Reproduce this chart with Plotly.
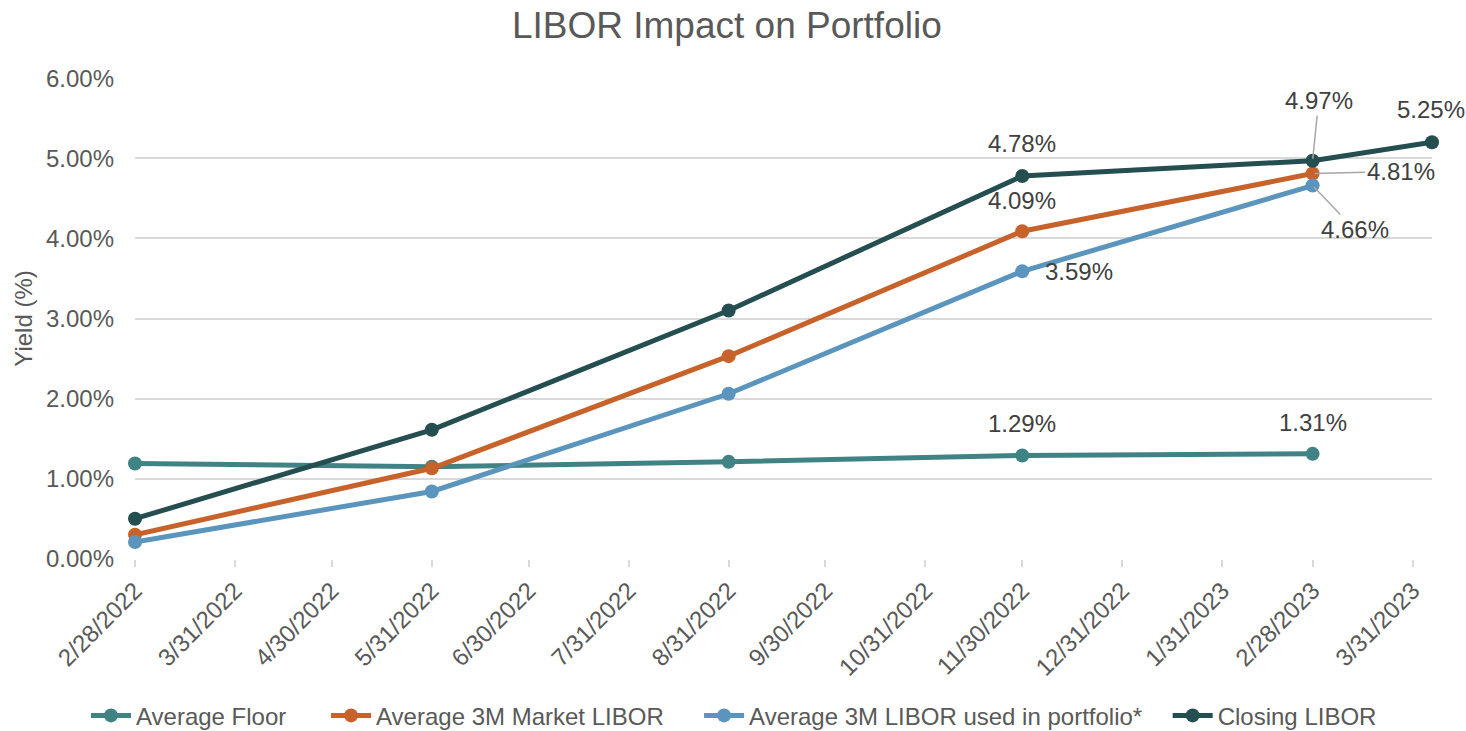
import plotly.graph_objects as go

# ---------------- data ----------------
dates = ["2022-02-28", "2022-05-31", "2022-08-31", "2022-11-30", "2023-02-28"]
closing_dates = ["2022-02-28", "2022-05-31", "2022-08-31", "2022-11-30", "2023-02-28", "2023-04-06"]

avg_floor = [1.19, 1.15, 1.21, 1.29, 1.31]
avg_market = [0.30, 1.13, 2.53, 4.09, 4.81]
avg_used = [0.21, 0.84, 2.06, 3.59, 4.66]
closing = [0.50, 1.61, 3.10, 4.78, 4.97, 5.20]

series_names = ["Average Floor", "Average 3M Market LIBOR",
                "Average 3M LIBOR used in portfolio*", "Closing LIBOR"]

tick_dates = ["2022-02-28", "2022-03-31", "2022-04-30", "2022-05-31", "2022-06-30",
              "2022-07-31", "2022-08-31", "2022-09-30", "2022-10-31", "2022-11-30",
              "2022-12-31", "2023-01-31", "2023-02-28", "2023-03-31"]
tick_labels = ["2/28/2022", "3/31/2022", "4/30/2022", "5/31/2022", "6/30/2022",
               "7/31/2022", "8/31/2022", "9/30/2022", "10/31/2022", "11/30/2022",
               "12/31/2022", "1/31/2023", "2/28/2023", "3/31/2023"]

y_ticks = [0, 1, 2, 3, 4, 5, 6]
y_tick_labels = ["0.00%", "1.00%", "2.00%", "3.00%", "4.00%", "5.00%", "6.00%"]

# data labels: (series index, point index, text)
data_labels = [
    (3, 3, "4.78%"), (3, 4, "4.97%"), (3, 5, "5.25%"),
    (1, 3, "4.09%"), (1, 4, "4.81%"),
    (2, 3, "3.59%"), (2, 4, "4.66%"),
    (0, 3, "1.29%"), (0, 4, "1.31%"),
]

# ---------------- styling ----------------
colors = ["#418284", "#C8622B", "#5B95BE", "#254E51"]
FONT = "Liberation Sans, Arial, sans-serif"
FS = 24

xs = [dates, dates, dates, closing_dates]
ys = [avg_floor, avg_market, avg_used, closing]
legend_ids = ["legend", "legend2", "legend3", "legend4"]
legend_x = [-0.0378, 0.1473, 0.4349, 0.7962]

fig = go.Figure()
for name, x, y, c, lg in zip(series_names, xs, ys, colors, legend_ids):
    fig.add_trace(go.Scatter(
        x=x, y=y, name=name, mode="lines+markers",
        line=dict(color=c, width=5),
        marker=dict(color=c, size=14),
        cliponaxis=False, hoverinfo="skip", legend=lg,
    ))

# label placement (offsets in px) per label
label_pos = {
    (3, 3): dict(kind="shift", dx=0, dy=32),
    (3, 4): dict(kind="arrow", ax=6, ay=-60),
    (3, 5): dict(kind="shift", dx=-1, dy=33),
    (1, 3): dict(kind="shift", dx=0, dy=31),
    (1, 4): dict(kind="arrow", ax=88, ay=-2),
    (2, 3): dict(kind="shift", dx=57, dy=0),
    (2, 4): dict(kind="arrow", ax=42, ay=44),
    (0, 3): dict(kind="shift", dx=0, dy=32),
    (0, 4): dict(kind="shift", dx=0, dy=31),
}

for si, pi, txt in data_labels:
    p = label_pos[(si, pi)]
    base = dict(x=xs[si][pi], y=ys[si][pi], xref="x", yref="y", text=txt,
                font=dict(family=FONT, size=FS, color="#404040"))
    if p["kind"] == "shift":
        fig.add_annotation(**base, showarrow=False, xshift=p["dx"], yshift=p["dy"])
    else:
        fig.add_annotation(**base, showarrow=True, arrowhead=0, arrowwidth=1.5,
                           arrowcolor="#A6A6A6", ax=p["ax"], ay=p["ay"], standoff=2)

legend_common = dict(orientation="h", y=-0.326, yanchor="middle", xanchor="left",
                     font=dict(family=FONT, size=FS, color="#595959"),
                     itemwidth=40, bgcolor="rgba(0,0,0,0)")

fig.update_layout(
    width=1466, height=731,
    paper_bgcolor="white", plot_bgcolor="white",
    margin=dict(l=135, r=34, t=78, b=172, autoexpand=False),
    title=dict(text="LIBOR Impact on Portfolio", x=0.4958, xanchor="center",
               y=0.9663, yanchor="middle",
               font=dict(family=FONT, size=37, color="#595959")),
    font=dict(family=FONT, color="#595959"),
    showlegend=True,
    legend=dict(x=legend_x[0], **legend_common),
    legend2=dict(x=legend_x[1], **legend_common),
    legend3=dict(x=legend_x[2], **legend_common),
    legend4=dict(x=legend_x[3], **legend_common),
    xaxis=dict(
        type="date", range=["2022-02-28", "2023-04-06"], automargin=False,
        tickvals=tick_dates, ticktext=tick_labels, tickangle=-45,
        tickfont=dict(family=FONT, size=FS, color="#595959"),
        ticks="outside", ticklen=7, tickcolor="#D9D9D9", tickwidth=1.5,
        showgrid=False, zeroline=False, showline=False,
    ),
    yaxis=dict(
        range=[-0.003, 6.003], tickvals=y_ticks, ticktext=y_tick_labels, automargin=False,
        tickfont=dict(family=FONT, size=FS, color="#595959"),
        showgrid=True, gridcolor="#D9D9D9", gridwidth=1.5,
        zeroline=False, showline=False, ticks="", ticklabelstandoff=20,
        title=dict(text="Yield (%)", font=dict(family=FONT, size=FS, color="#595959"),
                   standoff=6),
    ),
)

fig.write_html("out.html",
               config={"displayModeBar": False},
               post_script="document.body.style.margin='0';document.body.style.overflow='hidden';")
